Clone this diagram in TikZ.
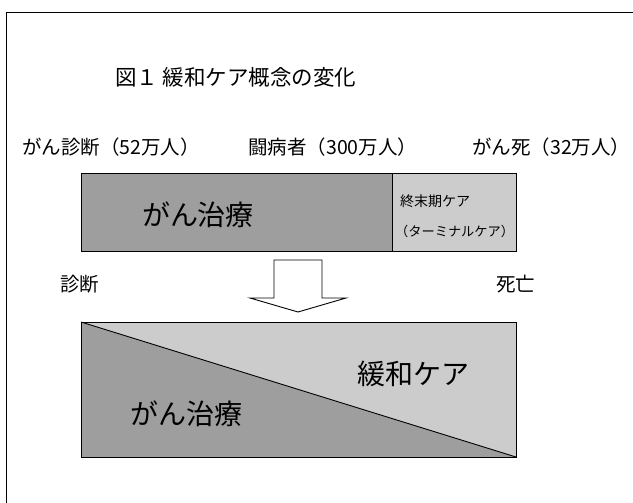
\documentclass[tikz,border=0pt]{standalone}
\usepackage{fontspec}
\newfontfamily\jp{Noto Sans CJK JP}
\begin{document}
\begin{tikzpicture}[x=1pt,y=-1pt,
  lbl/.style={inner sep=0pt,anchor=west,font=\jp\fontsize{19.5}{19.5}\selectfont},
  side/.style={inner sep=0pt,anchor=west,font=\jp\fontsize{19.5}{19.5}\selectfont},
  big/.style={inner sep=0pt,font=\jp\fontsize{28}{28}\selectfont},
  darkfill/.style={fill=black!38},
  lightfill/.style={fill=black!20},
  frame/.style={line width=0.8pt}]
\useasboundingbox (0,0) rectangle (633,503);
% outer frame
\draw[frame] (6,503) -- (6,12) -- (633,12);
% title
\node[inner sep=0pt,anchor=west,font=\jp\fontsize{21.5}{21.5}\selectfont] (title) at (115,77) {図１ 緩和ケア概念の変化};
% label row
\node[lbl] (diag) at (22,147) {がん診断（52万人）};
\node[lbl] (fight) at (248,147) {闘病者（300万人）};
\node[lbl] (death) at (472,147) {がん死（32万人）};
% top box
\path[darkfill] (81,173) rectangle (392,251);
\path[lightfill] (392,173) rectangle (516,251);
\draw[line width=0.9pt] (81,173) rectangle (516,251);
\draw[line width=0.7pt] (392,173) -- (392,251);
\node[big] (treat1) at (198,215) {がん治療};
\node[inner sep=0pt,anchor=west,font=\jp\fontsize{14}{14}\selectfont] (term1) at (400,201) {終末期ケア};
\node[inner sep=0pt,anchor=west,font=\jp\fontsize{13.2}{13.2}\selectfont] (term2) at (395,231) {（ターミナルケア）};
% side labels
\node[side] (shindan) at (60,284) {診断};
\node[side] (shibou) at (496,284) {死亡};
% hollow down arrow
\draw[line width=0.9pt,fill=white] (274,260) -- (322,260) -- (322,298) -- (346,298) -- (298,312) -- (250,298) -- (274,298) -- cycle;
% bottom box
\path[lightfill] (81,322) -- (516,322) -- (516,457) -- cycle;
\path[darkfill] (81,322) -- (516,457) -- (81,457) -- cycle;
\draw[line width=0.9pt] (81,322) rectangle (516,457);
\draw[line width=0.9pt] (81,322) -- (516,457);
\node[big] (kanwa) at (413,374) {緩和ケア};
\node[big] (treat2) at (186,414) {がん治療};
\end{tikzpicture}
\end{document}
